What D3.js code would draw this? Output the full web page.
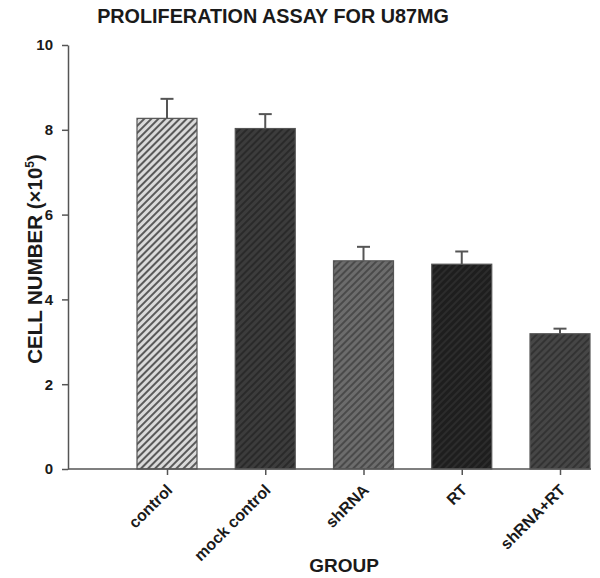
<!DOCTYPE html>
<html><head><meta charset="utf-8">
<script src="https://cdn.jsdelivr.net/npm/d3@7"></script>
<style>body{margin:0;background:#fff}svg{display:block;font-family:Arial,"Liberation Sans",sans-serif}</style>
</head><body>
<script>
const categories = ["control","mock control","shRNA","RT","shRNA+RT"];
const values = [8.27, 8.03, 4.91, 4.83, 3.19];
const errors = [0.46, 0.34, 0.33, 0.30, 0.12];
const yTicks = [0,2,4,6,8,10];
const fills = ["#dadada","#3c3c3c","#6c6c6c","#1e1e1e","#464646"];
const hatch = ["#5a5a5a","#2a2a2a","#4a4a4a","#2c2c2c","#333333"];

const W=600,H=578;
const FONT="Arial,'Liberation Sans',sans-serif";
const svg=d3.select("body").append("svg").attr("width",W).attr("height",H);
const defs=svg.append("defs");
fills.forEach((f,i)=>{
  const p=defs.append("pattern").attr("id","h"+i).attr("patternUnits","userSpaceOnUse")
    .attr("width",5).attr("height",5).attr("patternTransform","rotate(45)");
  p.append("rect").attr("width",5).attr("height",5).attr("fill",f);
  p.append("rect").attr("x",0).attr("width",2).attr("height",5).attr("fill",hatch[i]);
});

const y=d3.scaleLinear().domain([0,10]).range([469,45]);
const x=d3.scalePoint().domain(categories).range([167,560]);
const bw=60;

// title
svg.append("text").attr("x",273).attr("y",23).attr("text-anchor","middle")
  .attr("font-weight","bold").attr("font-size",19.8).attr("fill","#1a1a1a").text("PROLIFERATION ASSAY FOR U87MG");

// bars
const g=svg.append("g");
g.selectAll("rect.bar").data(categories).join("rect").attr("class","bar")
  .attr("x",d=>x(d)-bw/2).attr("width",bw)
  .attr("y",(d,i)=>y(values[i])).attr("height",(d,i)=>y(0)-y(values[i]))
  .attr("fill",(d,i)=>`url(#h${i})`).attr("stroke","#555").attr("stroke-width",1.2);

// error bars
categories.forEach((c,i)=>{
  const cx=x(c), top=y(values[i]+errors[i]);
  g.append("line").attr("x1",cx).attr("x2",cx).attr("y1",y(values[i])).attr("y2",top)
    .attr("stroke","#555").attr("stroke-width",2);
  g.append("line").attr("x1",cx-6.5).attr("x2",cx+6.5).attr("y1",top).attr("y2",top)
    .attr("stroke","#555").attr("stroke-width",2);
});

// y axis
const ya=svg.append("g").attr("transform","translate(68,0)")
  .call(d3.axisLeft(y).tickValues(yTicks).tickSize(6).tickSizeOuter(0).tickPadding(9));
ya.select(".domain").attr("stroke","#555").attr("stroke-width",1.5);
ya.selectAll(".tick line").attr("stroke","#555").attr("stroke-width",1.5);
ya.selectAll(".tick text").attr("font-size",15).attr("font-weight","bold").attr("fill","#1a1a1a").attr("font-family",FONT);

// x axis
const xa=svg.append("g").attr("transform","translate(0,469)")
  .call(d3.axisBottom(x).tickSize(6).tickSizeOuter(0));
xa.select(".domain").remove();
xa.append("line").attr("x1",68).attr("x2",591).attr("y1",0).attr("y2",0).attr("stroke","#555").attr("stroke-width",1.5);
xa.selectAll(".tick line").attr("stroke","#555").attr("stroke-width",1.5);
xa.selectAll(".tick text").attr("font-size",16).attr("font-weight","bold").attr("fill","#1a1a1a")
  .attr("font-family",FONT)
  .attr("text-anchor","end").attr("x",0).attr("y",0).attr("dy",0).attr("transform","translate(6,22) rotate(-45)");

// axis titles
svg.append("text").attr("x",344).attr("y",572).attr("text-anchor","middle")
  .attr("font-weight","bold").attr("font-size",19).attr("fill","#1a1a1a").text("GROUP");
const yl=svg.append("text").attr("transform","translate(42,259) rotate(-90)").attr("text-anchor","middle")
  .attr("font-weight","bold").attr("font-size",20.5).attr("fill","#1a1a1a");
yl.append("tspan").text("CELL NUMBER (×10");
yl.append("tspan").attr("font-size",12).attr("dy",-8).text("5");
yl.append("tspan").attr("dy",8).text(")");
</script>
</body></html>
